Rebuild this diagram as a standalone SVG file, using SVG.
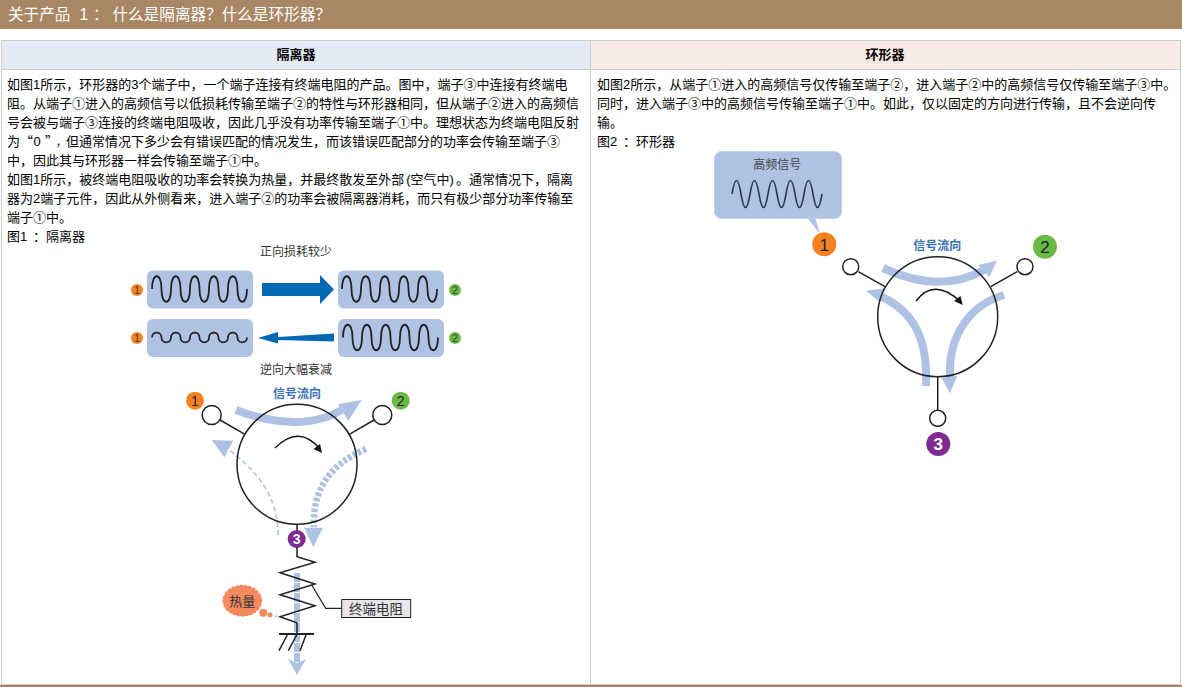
<svg xmlns="http://www.w3.org/2000/svg" xmlns:xlink="http://www.w3.org/1999/xlink" width="1182" height="687" viewBox="0 0 1182 687">
<style>
text{font-family:"Liberation Sans","Noto Sans CJK SC",sans-serif;fill:#000}
.b{font-size:13px}
.h{font-size:13px;font-weight:700;text-anchor:middle}
.c{font-size:12px;text-anchor:middle;fill:#333}
.f{font-size:12px;font-weight:700;text-anchor:middle;fill:#3b72b5}
.n{font-size:10px;text-anchor:middle;fill:#333}
.N{font-size:17px;text-anchor:middle;fill:#222}
.q{font-family:"Noto Sans CJK SC",sans-serif}
.box{fill:#afc2e4}
.w{fill:none;stroke:#222;stroke-width:1.8}
.l{fill:none;stroke:#222;stroke-width:1.5}
.p{fill:#fff;stroke:#222;stroke-width:1.5}
.ba{fill:none;stroke:#afc2e4;stroke-width:8}
.ah{fill:#afc2e4}
.o{fill:#f58220}.g{fill:#6ab945}.v{fill:#7d2a91}
.cell{stroke:#ccc;stroke-width:1}
</style>
<defs>
<path id="bigw" class="w" d="M0,0c0-17 9.5-17 9.5 0c0 17 9.5 17 9.5 0c0-17 9.5-17 9.5 0c0 17 9.5 17 9.5 0c0-17 9.5-17 9.5 0c0 17 9.5 17 9.5 0c0-17 9.5-17 9.5 0c0 17 9.5 17 9.5 0c0-17 9.5-17 9.5 0c0 17 9.5 17 9.5 0"/>
</defs>
<g id="page">
<rect x="0" y="0" width="1182" height="29" fill="#a98664"/>
<text x="8" y="20" style="font-size:15.6px;fill:#fff">关于产品<tspan x="79.500">1</tspan><tspan x="93">：</tspan><tspan x="112.500">什么是隔离器？什么是环形器？</tspan></text>
<rect x="1.500" y="40.500" width="589" height="29" fill="#e4ebf7" class="cell"/>
<rect x="590.500" y="40.500" width="590" height="29" fill="#f8ebe6" class="cell"/>
<rect x="1.500" y="69.500" width="589" height="615" fill="#fff" class="cell"/>
<rect x="590.500" y="69.500" width="590" height="615" fill="#fff" class="cell"/>
<rect x="0" y="685" width="1182" height="2" fill="#a98664"/>
<text x="296" y="58.500" class="h">隔离器</text>
<text x="885" y="58.500" class="h">环形器</text>
</g>
<g id="text-left">
<text x="7" y="89" class="b">如图1所示，环形器的3个端子中，一个端子连接有终端电阻的产品。图中，端子③中连接有终端电</text>
<text x="7" y="107.500" class="b">阻。从端子①进入的高频信号以低损耗传输至端子②的特性与环形器相同，但从端子②进入的高频信</text>
<text x="7" y="126.500" class="b">号会被与端子③连接的终端电阻吸收，因此几乎没有功率传输至端子①中。理想状态为终端电阻反射</text>
<text x="7" y="145.500" class="b">为<tspan class="q" x="20">“</tspan><tspan x="33.500">0</tspan><tspan class="q" x="45">”</tspan><tspan x="56" style="font-size:10px">，</tspan><tspan x="66">但通常情况下多少会有错误匹配的情况发生，而该错误匹配部分的功率会传输至端子③</tspan></text>
<text x="7" y="164.500" class="b">中，因此其与环形器一样会传输至端子①中。</text>
<text x="7" y="183.500" class="b">如图1所示，被终端电阻吸收的功率会转换为热量，并最终散发至外部<tspan dx="2">(空气中)</tspan><tspan dx="2">。通常情况下，隔离</tspan></text>
<text x="7" y="202.500" class="b">器为2端子元件，因此从外侧看来，进入端子②的功率会被隔离器消耗，而只有极少部分功率传输至</text>
<text x="7" y="221.500" class="b">端子①中。</text>
<text x="7" y="240.500" class="b">图1<tspan x="33">：</tspan><tspan x="46">隔离器</tspan></text>
</g>
<g id="text-right">
<text x="597" y="89" class="b">如图2所示，从端子①进入的高频信号仅传输至端子②，进入端子②中的高频信号仅传输至端子③中。</text>
<text x="597" y="107.500" class="b">同时，进入端子③中的高频信号传输至端子①中。如此，仅以固定的方向进行传输，且不会逆向传</text>
<text x="597" y="126.500" class="b">输。</text>
<text x="597" y="145.500" class="b">图2<tspan x="623">：</tspan><tspan x="636">环形器</tspan></text>
</g>
<g id="waveform-panels">
<text x="296" y="256" class="c">正向损耗较少</text>
<rect class="box" x="147" y="270.500" width="106" height="38" rx="6"/>
<rect class="box" x="338" y="270.500" width="106" height="38" rx="6"/>
<rect class="box" x="147" y="319" width="106" height="38" rx="6"/>
<rect class="box" x="338" y="319" width="106" height="38" rx="6"/>
<use xlink:href="#bigw" href="#bigw" x="152" y="289"/>
<use xlink:href="#bigw" href="#bigw" x="342" y="289"/>
<use xlink:href="#bigw" href="#bigw" x="343" y="337.500"/>
<path class="w" d="M152,337.500c0-6.500 9.500-6.500 9.500 0c0 6.500 9.500 6.500 9.500 0c0-6.500 9.500-6.500 9.500 0c0 6.500 9.500 6.500 9.500 0c0-6.500 9.500-6.500 9.500 0c0 6.500 9.500 6.500 9.500 0c0-6.500 9.500-6.500 9.500 0c0 6.500 9.500 6.500 9.500 0c0-6.500 9.500-6.500 9.500 0c0 6.500 9.500 6.500 9.500 0"/>
<polygon fill="#0068b4" points="262,283 320,283 320,275 334,289.500 320,304 320,296 262,296"/>
<polygon fill="#0068b4" points="258,338 278,332 278,337 334,333.500 334,341.500 278,340 278,343.500"/>
<circle class="o" cx="137" cy="290" r="6"/><text x="137" y="293.500" class="n">1</text>
<circle class="o" cx="137" cy="338" r="6"/><text x="137" y="341.500" class="n">1</text>
<circle class="g" cx="455" cy="290" r="6"/><text x="455" y="293.500" class="n">2</text>
<circle class="g" cx="455" cy="338" r="6"/><text x="455" y="341.500" class="n">2</text>
<text x="296" y="374" class="c">逆向大幅衰减</text>
</g>
<g id="isolator-flows">
<path class="ba" d="M236,410Q303,435 345,408"/>
<polygon class="ah" points="361.700,400 338,404 348.300,421"/>
<path fill="none" stroke="#afc2e4" stroke-width="1.600" stroke-dasharray="5 3" d="M278,535C278,500 262,475 228,449"/>
<polygon class="ah" points="211.700,440 233.300,440.700 224.300,457.300"/>
<path fill="none" stroke="#afc2e4" stroke-width="6.500" stroke-dasharray="3.500 2" d="M366,449C335,462 312,485 314,527"/>
<polygon class="ah" points="313.300,547 304,527.700 323,527.700"/>
<path fill="none" stroke="#afc2e4" stroke-width="6" stroke-dasharray="9 1" d="M297,573V663"/>
<polygon class="ah" points="297,675 288,659 297,663 306,659"/>
</g>
<g id="isolator">
<circle cx="297" cy="464.300" r="60" fill="none" stroke="#222" stroke-width="1.500"/>
<path class="l" d="M220,420L245,434.300M374,420L349.300,434.300M297,524V537"/>
<circle class="p" cx="211.700" cy="415" r="9.500"/>
<circle class="p" cx="382.300" cy="415" r="9.500"/>
<path fill="none" stroke="#111" stroke-width="1.300" d="M275,448Q299,424 320,449"/>
<polygon fill="#111" points="322,453 313.500,449 320,444"/>
<text x="297" y="398" class="f">信号流向</text>
<circle class="o" cx="195" cy="400.700" r="9"/><text x="195" y="406" class="N" style="font-size:14px">1</text>
<circle class="g" cx="400.700" cy="400.700" r="9"/><text x="400.700" y="406" class="N" style="font-size:14px">2</text>
<circle class="v" cx="296.700" cy="539" r="9"/><text x="296.700" y="544" class="N" style="font-size:14px;font-weight:700;fill:#fff">3</text>
</g>
<g id="resistor">
<path class="l" d="M297,547V556.700L315,562.300L280,572.700L315,584L280,594.700L315,605.700L280,616.700L297,622.700V634"/>
<path fill="none" stroke="#222" stroke-width="2" d="M279,634H314"/>
<path class="l" d="M287.300,635L279,650.700M296.700,635L288.300,650.700M306,635L300,650.700"/>
<path fill="none" stroke="#222" stroke-width="1.200" d="M311.700,585L325.700,608.300H341.700"/>
<rect x="341.700" y="599.500" width="69" height="18" fill="#e6e6e6" stroke="#222" stroke-width="1"/>
<text x="376" y="613.500" style="font-size:13.500px;text-anchor:middle;fill:#333">终端电阻</text>
</g>
<g id="heat">
<ellipse cx="242.300" cy="600.700" rx="17.500" ry="13.500" fill="#f58a5e" stroke="#f58a5e" stroke-width="5" stroke-linecap="round" stroke-dasharray="0 4"/>
<circle cx="263.300" cy="612.700" r="4" fill="#f58a5e"/>
<circle cx="270" cy="614.700" r="2.500" fill="#f58a5e"/>
<circle cx="275.700" cy="616.300" r="1" fill="#f58a5e"/>
<text x="242.300" y="605.500" style="font-size:13px;text-anchor:middle;fill:#333">热量</text>
</g>
<g id="signal-callout">
<polygon class="box" points="806.700,217 815,217 820,234"/>
<rect class="box" x="714.500" y="151.500" width="127" height="67" rx="7" stroke="#c3d2ec"/>
<text x="777.300" y="168.500" class="c" style="fill:#444">高频信号</text>
<path fill="none" stroke="#2a3a55" stroke-width="1.600" d="M732,194c3-18 6-18 9 0s6 18 9 0c3-18 6-18 9 0s6 18 9 0c3-18 6-18 9 0s6 18 9 0c3-18 6-18 9 0s6 18 9 0c3-18 6-18 9 0s6 18 9 0"/>
<circle class="o" cx="824.300" cy="244.300" r="12"/><text x="824.300" y="250.500" class="N">1</text>
</g>
<g id="circulator-flows">
<path class="ba" d="M883,268Q940,294.500 984,270"/>
<polygon class="ah" points="996.700,260.700 978.300,265 989.300,277.300"/>
<path class="ba" d="M926,386C928,340 915,312 880,296"/>
<polygon class="ah" points="866,290.700 885,288.300 880,302.300"/>
<path class="ba" d="M1004,295C970,305 948,335 950,378"/>
<polygon class="ah" points="950,393.300 941.700,378.300 957.300,375.700"/>
</g>
<g id="circulator">
<circle cx="937.700" cy="316.700" r="60" fill="none" stroke="#222" stroke-width="1.500"/>
<path class="l" d="M858.300,271.700L885,286.700M1017.300,271.700L990.700,286.700M937.700,376.700V410"/>
<circle class="p" cx="850.700" cy="266.700" r="8"/>
<circle class="p" cx="1025" cy="266.700" r="8"/>
<circle class="p" cx="937.700" cy="418.300" r="8"/>
<path fill="none" stroke="#111" stroke-width="1.300" d="M916,301Q934,277 961,302"/>
<polygon fill="#111" points="962.700,305 954,301 960.500,296"/>
<text x="937.300" y="250" class="f">信号流向</text>
<circle class="g" cx="1045" cy="246.700" r="12"/><text x="1045" y="253" class="N">2</text>
<circle class="v" cx="938.300" cy="444" r="12"/><text x="938.300" y="450" class="N" style="font-weight:700;fill:#fff">3</text>
</g>
</svg>
